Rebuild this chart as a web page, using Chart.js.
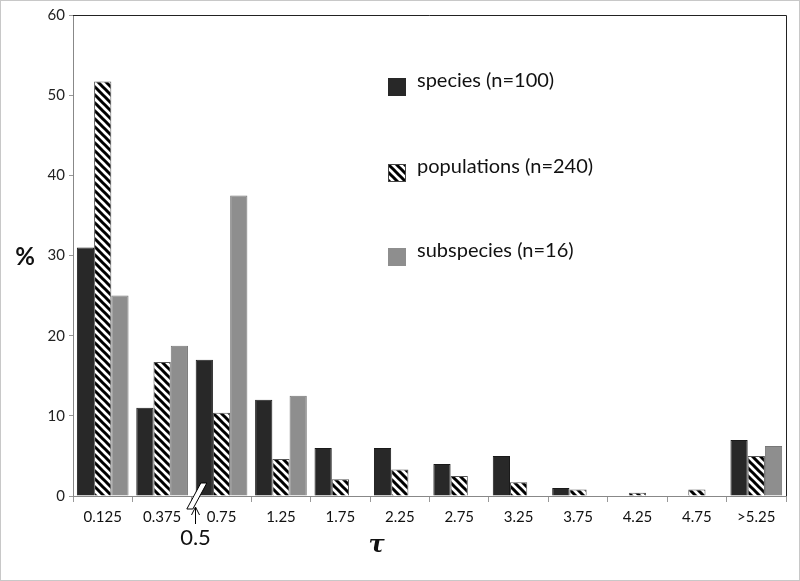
<!DOCTYPE html>
<html>
<head>
<meta charset="utf-8">
<script src="https://cdn.jsdelivr.net/npm/chart.js@4.4.0/dist/chart.umd.min.js"></script>
<style>
  html, body { margin: 0; padding: 0; background: #fff; }
  #wrap { width: 800px; height: 581px; position: relative; }
</style>
</head>
<body>
<div id="wrap"><canvas id="grafico"></canvas></div>
<script>
  // dados
  const categorias = ['0.125', '0.375', '0.75', '1.25', '1.75', '2.25', '2.75', '3.25', '3.75', '4.25', '4.75', '>5.25'];
  const especies = [31, 11, 17, 12, 6, 6, 4, 5, 1, 0, 0, 7];
  const populacoes = [51.7, 16.7, 10.4, 4.6, 2.1, 3.3, 2.5, 1.7, 0.8, 0.4, 0.8, 5.0];
  const subespecies = [25, 18.75, 37.5, 12.5, 0, 0, 0, 0, 0, 0, 0, 6.25];
  const rotulos = ['species (n=100)', 'populations (n=240)', 'subspecies (n=16)'];
  const ticksY = [0, 10, 20, 30, 40, 50, 60];

  const fonte = 'Lato, "Open Sans", sans-serif';

  // listras diagonais para "populations"
  function listras() {
    const c = document.createElement('canvas');
    c.width = 8; c.height = 8;
    const g = c.getContext('2d');
    g.fillStyle = '#fff';
    g.fillRect(0, 0, 8, 8);
    g.strokeStyle = '#000';
    g.lineWidth = 3;
    g.beginPath();
    g.moveTo(-2, -2); g.lineTo(10, 10);
    g.moveTo(-10, -2); g.lineTo(2, 10);
    g.moveTo(6, -2); g.lineTo(18, 10);
    g.stroke();
    return g.createPattern(c, 'repeat');
  }

  const corEspecies = '#282828';
  const corSub = '#8e8e8e';
  const padrao = listras();
  const cores = [corEspecies, padrao, corSub];

  // legenda e anotações desenhadas dentro do gráfico
  const extras = {
    id: 'extras',
    afterDraw(chart) {
      const c = chart.ctx;
      const a = chart.chartArea;
      const x = chart.scales.x;
      c.save();

      // moldura externa
      c.strokeStyle = '#c8c8c8';
      c.lineWidth = 1;
      c.strokeRect(0.5, 0.5, chart.width - 1, chart.height - 1);

      // borda superior e direita
      c.strokeStyle = '#222';
      c.beginPath();
      c.moveTo(a.left, a.top + 0.5);
      c.lineTo(a.right + 0.5, a.top + 0.5);
      c.lineTo(a.right + 0.5, a.bottom);
      c.stroke();

      // legenda
      const ys = [78, 164, 248];
      c.font = '20px ' + fonte;
      c.textBaseline = 'middle';
      rotulos.forEach((t, i) => {
        c.fillStyle = cores[i];
        c.fillRect(388, ys[i], 18, 18);
        if (i === 1) {
          c.strokeStyle = '#444';
          c.strokeRect(388.5, ys[i] + 0.5, 17, 17);
        }
        c.fillStyle = '#111';
        c.fillText(t, 417, ys[i] + 3);
      });

      // quebra do eixo entre 0.375 e 0.75
      const xb = (x.getPixelForValue(1) + x.getPixelForValue(2)) / 2;
      c.fillStyle = '#fff';
      c.strokeStyle = '#000';
      c.lineWidth = 1;
      c.beginPath();
      c.moveTo(xb - 5, a.bottom + 13);
      c.lineTo(xb + 9, a.bottom - 13);
      c.lineTo(xb + 15, a.bottom - 13);
      c.lineTo(xb + 1, a.bottom + 13);
      c.closePath();
      c.fill();
      c.stroke();

      // seta e rótulo 0.5
      const xs = Math.round(xb + 3) + 0.5;
      c.beginPath();
      c.moveTo(xs, a.bottom + 28);
      c.lineTo(xs, a.bottom + 12);
      c.moveTo(xs - 4, a.bottom + 19);
      c.lineTo(xs, a.bottom + 11);
      c.lineTo(xs + 4, a.bottom + 19);
      c.stroke();
      c.fillStyle = '#111';
      c.font = '22px ' + fonte;
      c.textAlign = 'center';
      c.fillText('0.5', xs, a.bottom + 42);

      // títulos dos eixos
      c.font = 'bold 24px ' + fonte;
      c.fillText('%', 25, (a.top + a.bottom) / 2 + 2);
      c.font = 'italic bold 24px "DejaVu Serif", serif';
      c.fillText('τ', (a.left + a.right) / 2 - 53, a.bottom + 50);
      c.restore();
    }
  };

  const ctx = document.getElementById('grafico');
  const meuGrafico = new Chart(ctx, {
    type: 'bar',
    data: {
      labels: categorias,
      datasets: [
        { label: rotulos[0], data: especies, backgroundColor: corEspecies, borderColor: '#1a1a1a', borderWidth: 1 },
        { label: rotulos[1], data: populacoes, backgroundColor: padrao, borderColor: '#555', borderWidth: 1 },
        { label: rotulos[2], data: subespecies, backgroundColor: corSub, borderColor: '#777', borderWidth: 1 }
      ]
    },
    options: {
      responsive: true,
      maintainAspectRatio: false,
      animation: false,
      layout: { padding: { left: 0, right: 14, top: 15, bottom: 0 } },
      plugins: {
        legend: { display: false },
        tooltip: { enabled: false }
      },
      datasets: {
        bar: { categoryPercentage: 0.87, barPercentage: 1.0 }
      },
      scales: {
        x: {
          grid: { display: true, drawOnChartArea: false, offset: true, tickLength: 6, color: '#999' },
          border: { color: '#888' },
          ticks: { color: '#111', font: { family: fonte, size: 15 }, padding: 6, maxRotation: 0, autoSkip: false },
          afterFit(s) { s.height = 85; }
        },
        y: {
          min: 0,
          max: 60,
          afterBuildTicks(s) { s.ticks = ticksY.map(v => ({ value: v })); },
          grid: { display: true, drawOnChartArea: false, tickLength: 4, color: '#999' },
          border: { color: '#888' },
          ticks: { color: '#222', font: { family: fonte, size: 15 }, padding: 4 },
          afterFit(s) { s.width = 73; }
        }
      }
    },
    plugins: [extras]
  });
</script>
</body>
</html>
